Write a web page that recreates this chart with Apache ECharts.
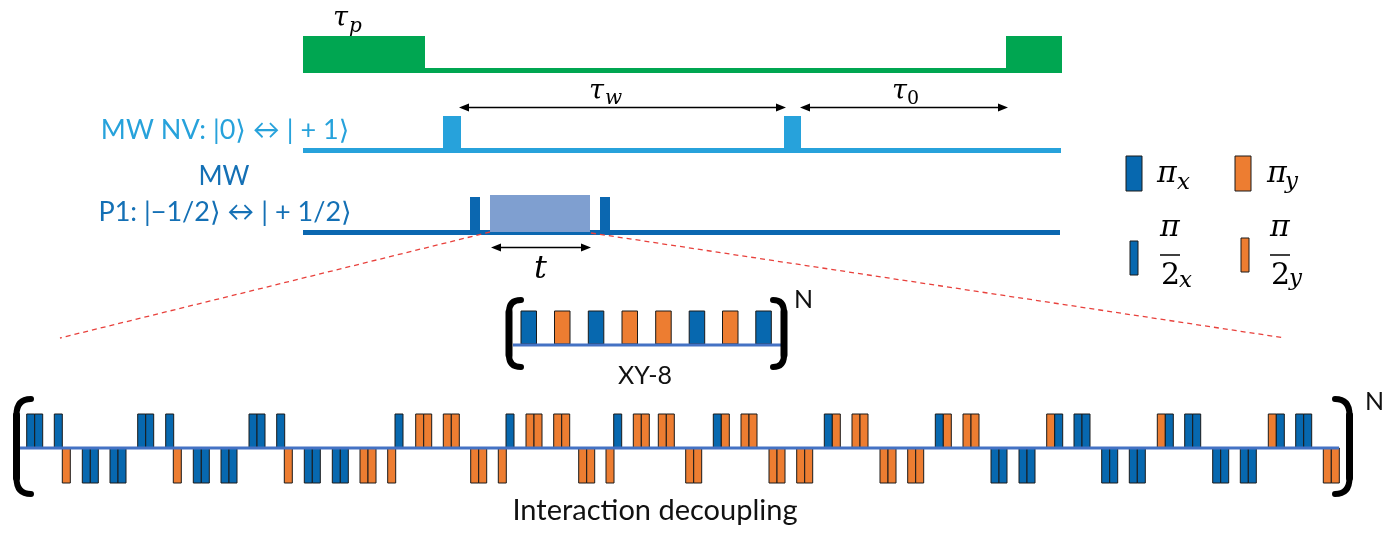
<!DOCTYPE html>
<html><head><meta charset="utf-8">
<script src="https://cdn.jsdelivr.net/npm/echarts@6/dist/echarts.min.js"></script>
<style>html,body{margin:0;padding:0;background:#fff}#c{width:1392px;height:533px}</style>
</head><body><div id="c"></div>
<script>
// ================= DATA (time positions along each channel) =================
const laserSpan = [303, 1062];
const laserPulses = [[303, 425], [1006, 1062]];
const nvSpan = [303, 1061];
const nvPulses = [[443, 461], [784, 801]];
const p1Span = [303, 1060];
const p1HalfPulses = [[470, 480], [600, 610]];
const p1Block = [[490, 590]];
const timeIntervals = [[459, 786], [800, 1008]];
const intervalSymbols = [['τ', 'w'], ['τ', '0']];
const tInterval = [491, 591];
const zoomGuides = [[[490, 232], [60, 338]], [[591, 233], [1285, 338]]];

const xy8Span = [513, 783];
const xy8Starts = [521, 554.5, 588.3, 622, 655.7, 689.2, 722.5, 755.8];
const xy8Phases = ['x', 'y', 'x', 'y', 'y', 'x', 'y', 'x'];

const decSpan = [20, 1339];
const decStart = [
  26.7, 34.7, 54.3, 62.3, 82.3, 90.3, 110, 118,
  137.7, 145.7, 165.7, 173.3, 193.3, 201.3, 221, 229,
  249, 257, 276.7, 284.3, 304.3, 312.3, 332.3, 340.3,
  360, 368, 387.7, 395, 415.7, 423.7, 443.3, 451.3,
  470.7, 478.7, 498.3, 506, 526, 534, 553.7, 561.7,
  578.7, 586.7, 606, 613.7, 633.3, 641.3, 658.3, 666.3,
  685.7, 693.7, 713.3, 721.3, 741, 749, 769, 777, 796.7, 804.7,
  824.3, 832.3, 852, 860, 880, 888, 907.7, 915.7,
  935.3, 943.3, 963, 971,
  991, 999, 1019, 1027, 1046.7, 1054.7, 1074, 1082,
  1101.7, 1109.7, 1129.3, 1137.3, 1157.3, 1165.3, 1184.7, 1192.7,
  1212.7, 1220.7, 1240.3, 1248.3, 1268.3, 1276.3, 1295.7, 1303.7,
  1323.3, 1331.3
];
const decPhase = ('xxxyxxxx' + 'xxxyxxxx' + 'xxxyxxxx' +
  'yyyxyyyy' + 'yyyxyyyy' + 'yyyxyyyy' +
  'yyxyyyyyyy' + 'xyyyyyyy' + 'xyyy' +
  'xxxxyxxx' + 'xxxxyxxx' + 'xxxxyxxx' + 'yy').split('');
const decSign = ('+++-----' + '+++-----' + '+++-----' +
  '---+++++' + '---+++++' + '---+++++' +
  '--++++----' + '++++----' + '++++' +
  '----++++' + '----++++' + '----++++' + '--').split('');

const legendItems = [
  { phase: 'x', kind: 'pi' }, { phase: 'y', kind: 'pi' },
  { phase: 'x', kind: 'half' }, { phase: 'y', kind: 'half' }
];

// ================= LAYOUT / STYLE =================
const C = {
  green: '#00A651', nv: '#27A2DB', p1: '#0B67B0', p1text: '#1470B5', block: '#7F9FD0',
  blue: '#0768AF', orange: '#ED7D31', edge: '#1a1a1a', base: '#4472C4', red: '#E8413C'
};
const Y = {
  laserBase: [68, 73], laserTop: 36,
  nvBase: [148, 153], nvTop: 116,
  p1Base: [230, 235], p1Top: 197, blockTop: 195, blockBottom: 232,
  arrow: 107.5, tArrow: 247.5,
  xy8Base: 345, xy8Top: 311, xy8W: 15.5,
  decBase: 448, decUp: 414, decDown: 483, decW: 8
};
const LEG = {
  pi: { x: { x: 1126, y: [156, 191] }, y: { x: 1235, y: [156, 191] }, w: 16 },
  half: { x: { x: 1130, y: [241, 275] }, y: { x: 1241, y: [238, 272] }, w: 8 }
};
const SANS = 'Lato, "Open Sans", "DejaVu Sans", sans-serif';
const SERIF = '"DejaVu Serif", "Liberation Serif", serif';

// ================= HELPERS =================
function rect(api, x1, y1, x2, y2, style) {
  const a = api.coord([x1, y1]), b = api.coord([x2, y2]);
  return { type: 'rect', shape: { x: Math.min(a[0], b[0]), y: Math.min(a[1], b[1]),
    width: Math.abs(b[0] - a[0]), height: Math.abs(b[1] - a[1]) }, style: style };
}
function text(api, x, y, str, font, fill, align) {
  const p = api.coord([x, y]);
  return { type: 'text', x: p[0], y: p[1], style: { text: str, font: font, fill: fill || '#000',
    align: align || 'left', verticalAlign: 'middle' } };
}
function arrow(api, x1, x2, y) {
  const a = api.coord([x1, y]), b = api.coord([x2, y]);
  return [
    { type: 'line', shape: { x1: a[0] + 4, y1: a[1], x2: b[0] - 4, y2: b[1] }, style: { stroke: '#000', lineWidth: 1.5 } },
    { type: 'polygon', shape: { points: [[a[0], a[1]], [a[0] + 10, a[1] - 4], [a[0] + 10, a[1] + 4]] }, style: { fill: '#000' } },
    { type: 'polygon', shape: { points: [[b[0], b[1]], [b[0] - 10, b[1] - 4], [b[0] - 10, b[1] + 4]] }, style: { fill: '#000' } }
  ];
}
function bracket(api, xEnd, xStem, yTop, yBot, r, lw) {
  const P = (x, y) => api.coord([x, y]);
  const t0 = P(xEnd, yTop), tc = P(xStem, yTop), t1 = P(xStem, yTop + r);
  const b1 = P(xStem, yBot - r), bc = P(xStem, yBot), b0 = P(xEnd, yBot);
  const st = { stroke: '#000', lineWidth: lw, fill: null, lineCap: 'round' };
  return [
    { type: 'bezierCurve', shape: { x1: t0[0], y1: t0[1], cpx1: tc[0], cpy1: tc[1], x2: t1[0], y2: t1[1] }, style: st },
    { type: 'line', shape: { x1: t1[0], y1: t1[1], x2: b1[0], y2: b1[1] }, style: Object.assign({}, st, { lineWidth: lw + 1 }) },
    { type: 'bezierCurve', shape: { x1: b1[0], y1: b1[1], cpx1: bc[0], cpy1: bc[1], x2: b0[0], y2: b0[1] }, style: st }
  ];
}
const phaseColor = p => (p === 'x' ? C.blue : C.orange);

// ================= RENDERERS =================
function renderTimeline(params, api) {
  const ch = [];
  // laser
  ch.push(rect(api, laserSpan[0], Y.laserBase[0], laserSpan[1], Y.laserBase[1], { fill: C.green }));
  laserPulses.forEach(p => ch.push(rect(api, p[0], Y.laserTop, p[1], Y.laserBase[1], { fill: C.green })));
  // NV
  ch.push(rect(api, nvSpan[0], Y.nvBase[0], nvSpan[1], Y.nvBase[1], { fill: C.nv }));
  nvPulses.forEach(p => ch.push(rect(api, p[0], Y.nvTop, p[1], Y.nvBase[1], { fill: C.nv })));
  // P1
  ch.push(rect(api, p1Span[0], Y.p1Base[0], p1Span[1], Y.p1Base[1], { fill: C.p1 }));
  p1HalfPulses.forEach(p => ch.push(rect(api, p[0], Y.p1Top, p[1], Y.p1Base[1], { fill: C.p1 })));
  p1Block.forEach(p => ch.push(rect(api, p[0], Y.blockTop, p[1], Y.blockBottom, { fill: C.block })));
  // arrows
  timeIntervals.forEach(iv => arrow(api, iv[0], iv[1], Y.arrow).forEach(e => ch.push(e)));
  arrow(api, tInterval[0], tInterval[1], Y.tArrow).forEach(e => ch.push(e));
  // zoom guides
  zoomGuides.forEach(g => {
    const a = api.coord(g[0]), b = api.coord(g[1]);
    ch.push({ type: 'line', shape: { x1: a[0], y1: a[1], x2: b[0], y2: b[1] },
      style: { stroke: C.red, lineWidth: 1.3, lineDash: [5, 4] } });
  });
  // math labels
  const big = 'italic 27px ' + SERIF, sub = 'italic 20px ' + SERIF, subUp = '19px ' + SERIF;
  ch.push(text(api, 333, 19, 'τ', big));
  ch.push(text(api, 349, 27, 'p', sub));
  ch.push(text(api, 589, 92, intervalSymbols[0][0], big));
  ch.push(text(api, 605, 99, intervalSymbols[0][1], sub));
  ch.push(text(api, 892, 92, intervalSymbols[1][0], big));
  ch.push(text(api, 907, 99.5, intervalSymbols[1][1], subUp));
  ch.push(text(api, 534, 270, 't', 'italic 32px ' + SERIF));
  // channel labels
  const lab = '27px ' + SANS;
  ch.push(text(api, 225, 130, 'MW NV: |0⟩ ↔ | + 1⟩', lab, C.nv, 'center'));
  ch.push(text(api, 224, 177, 'MW', '26px ' + SANS, C.p1text, 'center'));
  ch.push(text(api, 225, 212, 'P1: |−1/2⟩ ↔ | + 1/2⟩', lab, C.p1text, 'center'));
  return { type: 'group', children: ch };
}

function renderSequences(params, api) {
  const ch = [];
  // XY-8
  xy8Starts.forEach((s, i) => ch.push(rect(api, s, Y.xy8Top, s + Y.xy8W, Y.xy8Base - 1,
    { fill: phaseColor(xy8Phases[i]), stroke: C.edge, lineWidth: 1 })));
  ch.push(rect(api, xy8Span[0], Y.xy8Base - 1.5, xy8Span[1], Y.xy8Base + 1.5, { fill: C.base }));
  bracket(api, 521, 509, 300, 367, 12, 6).forEach(e => ch.push(e));
  bracket(api, 773, 784, 300, 367, 12, 6).forEach(e => ch.push(e));
  ch.push(text(api, 794, 300, 'N', '25px ' + SANS, '#111'));
  ch.push(text(api, 645, 376, 'XY-8', '25px ' + SANS, '#111', 'center'));
  // interaction decoupling
  decStart.forEach((s, i) => {
    const up = decSign[i] === '+';
    ch.push(rect(api, s, up ? Y.decUp : Y.decBase, s + Y.decW, up ? Y.decBase : Y.decDown,
      { fill: phaseColor(decPhase[i]), stroke: C.edge, lineWidth: 1 }));
  });
  ch.push(rect(api, decSpan[0], Y.decBase - 1.5, decSpan[1], Y.decBase + 1.5, { fill: C.base }));
  bracket(api, 31, 16.5, 399, 494, 16, 6).forEach(e => ch.push(e));
  bracket(api, 1335, 1349.5, 399, 494, 16, 6).forEach(e => ch.push(e));
  ch.push(text(api, 1365, 402, 'N', '25px ' + SANS, '#111'));
  ch.push(text(api, 655, 511, 'Interaction decoupling', '29px ' + SANS, '#111', 'center'));
  return { type: 'group', children: ch };
}

function renderLegend(params, api) {
  const ch = [];
  legendItems.forEach(it => {
    const g = LEG[it.kind][it.phase];
    ch.push(rect(api, g.x, g.y[0], g.x + LEG[it.kind].w, g.y[1],
      { fill: phaseColor(it.phase), stroke: C.edge, lineWidth: 1 }));
  });
  const big = 'italic 30px ' + SERIF, sub = 'italic 23px ' + SERIF, two = '30px ' + SERIF;
  ch.push(text(api, 1157, 174, 'π', big));
  ch.push(text(api, 1177, 183, 'x', sub));
  ch.push(text(api, 1267, 174, 'π', big));
  ch.push(text(api, 1285, 182, 'y', sub));
  [[1160, 'x'], [1270, 'y']].forEach(f => {
    const x0 = f[0];
    ch.push(text(api, x0, 228, 'π', big));
    const a = api.coord([x0, 255]), b = api.coord([x0 + 20, 255]);
    ch.push({ type: 'line', shape: { x1: a[0], y1: a[1], x2: b[0], y2: b[1] }, style: { stroke: '#000', lineWidth: 1.5 } });
    ch.push(text(api, x0 + 1, 276, '2', two));
    ch.push(text(api, x0 + 19, f[1] === 'x' ? 281 : 279, f[1], sub));
  });
  return { type: 'group', children: ch };
}

// ================= CHART =================
const chart = echarts.init(document.getElementById('c'));
chart.setOption({
  animation: false,
  backgroundColor: '#ffffff',
  grid: { left: 0, right: 0, top: 0, bottom: 0 },
  xAxis: { type: 'value', min: 0, max: 1392, show: false },
  yAxis: { type: 'value', min: 0, max: 533, inverse: true, show: false },
  series: [
    { type: 'custom', name: 'timeline', data: [[0, 0]], renderItem: renderTimeline, clip: false, silent: true },
    { type: 'custom', name: 'sequences', data: [[0, 0]], renderItem: renderSequences, clip: false, silent: true },
    { type: 'custom', name: 'legend', data: [[0, 0]], renderItem: renderLegend, clip: false, silent: true }
  ]
});
</script></body></html>
